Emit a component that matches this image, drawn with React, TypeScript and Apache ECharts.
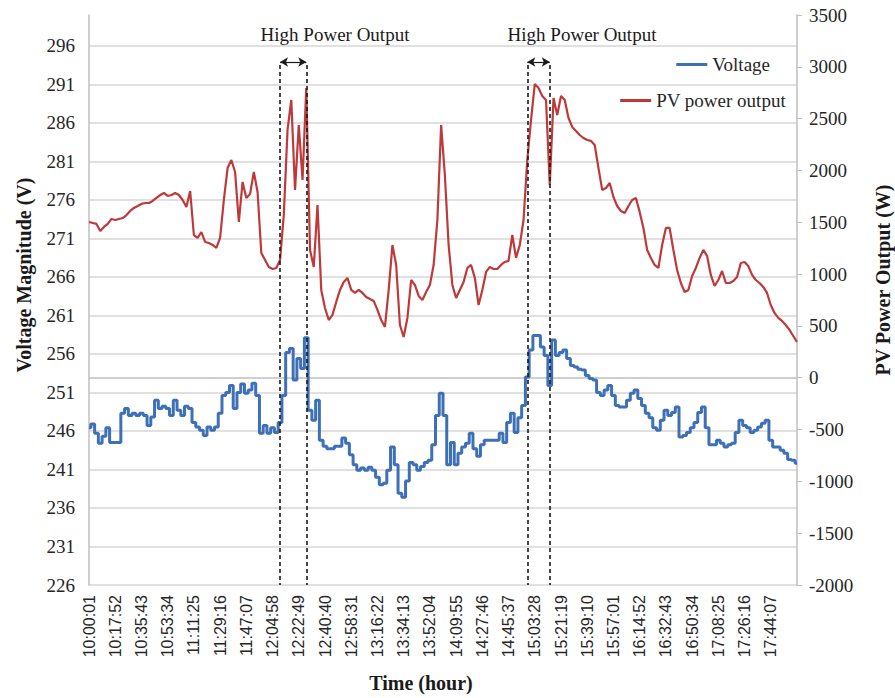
import React, { useEffect, useRef } from "react";
import * as echarts from "echarts";

// Time axis: samples every 153 s starting at 10:00:01 (labels every 7th sample)
const startSeconds = 10 * 3600 + 1;
const stepSeconds = 153;
const pointCount = 190;
const labelEvery = 7;
const pad = (n: number) => String(n).padStart(2, "0");
const categories: string[] = Array.from({ length: pointCount }, (_, i) => {
  const t = startSeconds + i * stepSeconds;
  return `${pad(Math.floor(t / 3600))}:${pad(Math.floor((t % 3600) / 60))}:${pad(t % 60)}`;
});

const voltage = [
  246.4, 246.9, 245.7, 244.4, 245.3, 246.4, 244.5, 244.5, 244.5, 248.3,
  248.9, 248.0, 248.3, 248.0, 248.3, 248.0, 246.7, 247.8, 250.0, 248.9,
  249.2, 248.9, 248.0, 250.0, 248.7, 248.0, 249.2, 248.9, 247.1, 246.5,
  246.1, 245.4, 246.5, 246.1, 246.5, 248.3, 250.6, 251.0, 251.9, 248.9,
  251.0, 252.1, 250.9, 251.3, 252.2, 250.6, 245.7, 246.7, 245.7, 246.4,
  245.8, 247.1, 250.6, 256.2, 256.7, 252.6, 255.4, 254.1, 258.1, 248.7,
  247.4, 250.0, 244.8, 244.0, 243.7, 243.7, 244.0, 244.0, 245.1, 244.4,
  242.9, 241.6, 240.9, 241.2, 240.9, 241.3, 240.9, 240.0, 239.0, 239.2,
  240.9, 243.9, 241.6, 237.9, 237.4, 239.5, 241.9, 241.6, 240.9, 241.4,
  241.9, 242.2, 244.2, 248.0, 250.9, 248.0, 241.6, 244.5, 241.6, 243.1,
  243.9, 244.4, 245.7, 243.7, 242.7, 244.2, 244.8, 244.8, 244.8, 244.8,
  245.7, 244.5, 247.1, 248.3, 245.8, 247.7, 249.3, 253.0, 256.5, 258.4,
  258.4, 256.9, 255.8, 251.9, 257.8, 255.8, 256.2, 256.5, 255.4, 254.5,
  254.3, 254.0, 253.9, 253.2, 252.8, 252.6, 251.0, 250.6, 251.3, 251.9,
  250.6, 249.3, 249.1, 249.1, 250.0, 250.9, 251.3, 250.2, 249.3, 248.3,
  247.7, 246.4, 246.1, 247.4, 248.7, 248.0, 248.4, 249.1, 245.2, 245.4,
  245.8, 246.4, 247.1, 248.4, 249.1, 246.4, 244.2, 244.2, 244.8, 244.4,
  243.9, 244.2, 244.4, 245.8, 247.4, 246.7, 246.4, 245.8, 246.1, 246.5,
  247.0, 247.4, 244.8, 243.9, 243.9, 243.5, 243.1, 242.3, 242.2, 241.8,
];

const pvPower = [
  1503, 1493, 1484, 1416, 1455, 1484, 1532, 1522, 1532, 1541,
  1570, 1609, 1638, 1657, 1677, 1686, 1686, 1706, 1735, 1763,
  1783, 1754, 1763, 1783, 1763, 1715, 1648, 1802, 1377, 1349,
  1406, 1310, 1300, 1281, 1252, 1349, 1715, 2024, 2101, 1985,
  1503, 1889, 1735, 1773, 1985, 1792, 1204, 1136, 1069, 1049,
  1059, 1136, 1570, 2391, 2680, 1812, 2439, 1908, 2796, 1233,
  1069, 1667, 847, 673, 557, 606, 731, 847, 924, 963,
  847, 818, 847, 818, 779, 760, 741, 654, 557, 490,
  847, 1281, 1088, 509, 393, 577, 943, 895, 789, 750,
  827, 895, 1088, 1522, 2439, 1956, 1281, 895, 770, 847,
  924, 1059, 1088, 963, 702, 847, 1021, 1069, 1049, 1049,
  1088, 1117, 1127, 1378, 1156, 1281, 1522, 2101, 2487, 2834,
  2796, 2719, 2680, 1860, 2699, 2535, 2719, 2680, 2506, 2420,
  2381, 2342, 2313, 2294, 2285, 2246, 2024, 1812, 1831, 1879,
  1744, 1657, 1609, 1590, 1657, 1715, 1735, 1600, 1445, 1233,
  1156, 1088, 1059, 1281, 1445, 1445, 1233, 1040, 914, 827,
  847, 982, 1059, 1156, 1233, 1175, 992, 885, 943, 1030,
  914, 914, 934, 972, 1107, 1117, 1078, 992, 943, 914,
  876, 818, 702, 625, 577, 548, 509, 461, 403, 345,
];

// High power output windows (category indices of the dashed lines)
const highPowerWindows: [number, number][] = [
  [51, 58],
  [117, 123],
];
const windowTopV = 293.5;
const arrowV = 293.9;
const annotationText = "High Power Output";

const serif = "'Liberation Serif', 'Times New Roman', serif";
const sans = "'Liberation Sans', Arial, sans-serif";

export default function App() {
  const ref = useRef<HTMLDivElement>(null);
  useEffect(() => {
    if (!ref.current) return;
    const chart = echarts.init(ref.current, undefined, { renderer: "svg" });

    const markData: any[] = [];
    highPowerWindows.forEach(([a, b]) => {
      markData.push([{ coord: [a, windowTopV] }, { coord: [a, 226] }]);
      markData.push([{ coord: [b, windowTopV] }, { coord: [b, 226] }]);
      markData.push([
        { coord: [a, arrowV], symbol: "arrow", symbolSize: [7, 8], lineStyle: { type: "solid", width: 1.2 } },
        { coord: [b, arrowV], symbol: "arrow", symbolSize: [7, 8], lineStyle: { type: "solid", width: 1.2 } },
      ]);
    });

    const option: any = {
      animation: false,
      backgroundColor: "#ffffff",
      grid: { left: 89, right: 98, top: 15, bottom: 113, containLabel: false },
      legend: [
        {
          data: ["Voltage"],
          right: 125,
          top: 55,
          padding: 0,
          icon: "rect",
          itemWidth: 31,
          itemHeight: 3,
          textStyle: { fontFamily: serif, fontSize: 19, color: "#262626" },
        },
        {
          data: ["PV power output"],
          right: 109,
          top: 91,
          padding: 0,
          icon: "rect",
          itemWidth: 31,
          itemHeight: 3,
          textStyle: { fontFamily: serif, fontSize: 19, color: "#262626" },
        },
      ],
      xAxis: {
        type: "category",
        data: categories,
        boundaryGap: false,
        axisLine: { show: true, lineStyle: { color: "#bfbfbf", width: 1.5 } },
        axisTick: { show: false },
        axisLabel: {
          interval: (i: number) => i % labelEvery === 0,
          showMaxLabel: false,
          rotate: 90,
          fontFamily: sans,
          fontSize: 16,
          color: "#262626",
          margin: 10,
        },
        splitLine: { show: false },
      },
      yAxis: [
        {
          type: "value",
          position: "left",
          min: 226,
          max: 300,
          interval: 5,
          axisLine: { show: true, lineStyle: { color: "#bfbfbf", width: 1.5 } },
          axisTick: { show: false },
          axisLabel: { showMaxLabel: false, fontFamily: serif, fontSize: 19, color: "#262626", margin: 14 },
          splitLine: { show: true, showMaxLine: false, lineStyle: { color: "#d6d6d6", width: 1.5 } },
        },
        {
          type: "value",
          position: "right",
          min: -2000,
          max: 3500,
          interval: 500,
          axisLine: { show: true, lineStyle: { color: "#bfbfbf", width: 1.5 } },
          axisTick: { show: true, length: 5, lineStyle: { color: "#bfbfbf" } },
          axisLabel: {
            fontFamily: serif,
            fontSize: 19,
            color: "#262626",
            margin: 12,
            formatter: (v: number) => String(v),
          },
          splitLine: { show: false },
        },
      ],
      series: [
        {
          name: "Voltage",
          type: "line",
          yAxisIndex: 0,
          data: voltage,
          step: "middle",
          showSymbol: false,
          symbol: "none",
          color: "#3d70b7",
          lineStyle: { color: "#3d70b7", width: 3 },
          z: 3,
          markLine: {
            silent: true,
            symbol: ["none", "none"],
            label: { show: false },
            lineStyle: { color: "#1a1a1a", type: [4, 3], width: 1.6 },
            emphasis: { disabled: true },
            data: markData,
          },
        },
        {
          name: "PV power output",
          type: "line",
          yAxisIndex: 1,
          data: pvPower,
          showSymbol: false,
          symbol: "none",
          color: "#be3a3a",
          lineStyle: { color: "#be3a3a", width: 2.2 },
          z: 2,
        },
      ],
      graphic: [
        {
          type: "text",
          x: 335,
          y: 34,
          style: { text: annotationText, font: `19px ${serif}`, fill: "#1a1a1a", align: "center", verticalAlign: "middle" },
        },
        {
          type: "text",
          x: 582,
          y: 34,
          style: { text: annotationText, font: `19px ${serif}`, fill: "#1a1a1a", align: "center", verticalAlign: "middle" },
        },
        {
          type: "text",
          x: 24,
          y: 275,
          rotation: Math.PI / 2,
          style: { text: "Voltage Magnitude (V)", font: `bold 20px ${serif}`, fill: "#1a1a1a", align: "center", verticalAlign: "middle" },
        },
        {
          type: "text",
          x: 883,
          y: 280,
          rotation: Math.PI / 2,
          style: { text: "PV Power Output (W)", font: `bold 20px ${serif}`, fill: "#1a1a1a", align: "center", verticalAlign: "middle" },
        },
        {
          type: "text",
          x: 421,
          y: 683,
          style: { text: "Time (hour)", font: `bold 20px ${serif}`, fill: "#1a1a1a", align: "center", verticalAlign: "middle" },
        },
      ],
    };
    chart.setOption(option);
    return () => chart.dispose();
  }, []);

  return <div ref={ref} style={{ position: "fixed", left: 0, top: 0, width: 895, height: 698 }} />;
}
